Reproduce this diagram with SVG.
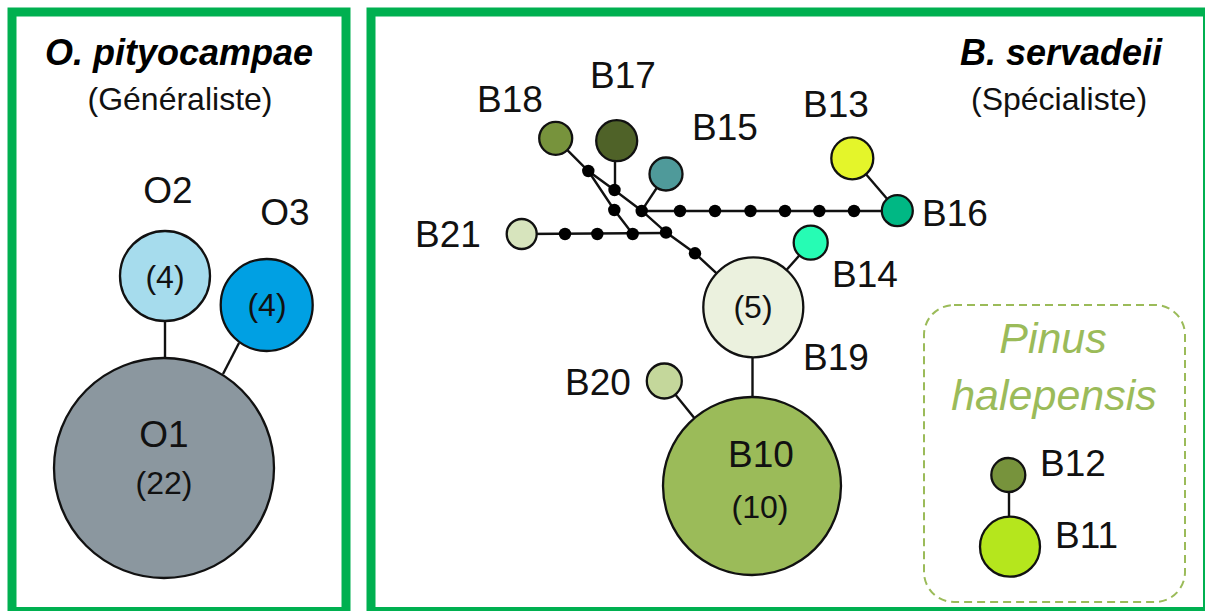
<svg xmlns="http://www.w3.org/2000/svg" width="1205" height="611" viewBox="0 0 1205 611">
<style>
.frame{fill:none;stroke:#00b050;stroke-width:9}
.node{stroke:#111;stroke-width:2.3}
.edge{stroke:#111;stroke-width:2.4;fill:none}
.dot{fill:#000}
.lbl{font-family:"Liberation Sans",Arial,sans-serif;font-size:37px;fill:#111}
.cnt{font-family:"Liberation Sans",Arial,sans-serif;font-size:32px;fill:#111;text-anchor:middle}
.title{font-family:"Liberation Sans",Arial,sans-serif;font-size:36px;font-weight:bold;font-style:italic;fill:#000;text-anchor:middle}
.sub{font-family:"Liberation Sans",Arial,sans-serif;font-size:32px;fill:#111;text-anchor:middle}
.pinus{font-family:"Liberation Sans",Arial,sans-serif;font-size:43px;font-style:italic;fill:#9bbb59;text-anchor:middle}
</style>
<rect width="1205" height="611" fill="#fff"/>
<rect class="frame" x="12" y="12" width="334" height="599.5"/>
<rect class="frame" x="371" y="12" width="836.5" height="599.5"/>
<rect x="924" y="305" width="261" height="297" rx="30" fill="none" stroke="#9bbb59" stroke-width="2" stroke-dasharray="8 5"/>

<text class="title" x="179" y="65">O. pityocampae</text>
<text class="sub" x="180" y="110">(Généraliste)</text>
<text class="title" x="1061" y="65">B. servadeii</text>
<text class="sub" x="1059" y="110">(Spécialiste)</text>
<text class="pinus" x="1053" y="353">Pinus</text>
<text class="pinus" x="1054" y="410">halepensis</text>

<g id="connectors">
<line class="edge" x1="165" y1="320" x2="165" y2="362"/>
<line class="edge" x1="239" y1="343" x2="223" y2="374"/>
<polyline class="edge" points="555.7,138.3 588.3,171 614.3,190 641.7,210.7 666,232.3 695,253.3 753.3,307.3"/>
<polyline class="edge" points="588.3,171 614.3,210 632.7,234"/>
<line class="edge" x1="615" y1="140" x2="615" y2="190"/>
<line class="edge" x1="666" y1="174" x2="641.7" y2="210.7"/>
<line class="edge" x1="642" y1="211" x2="898" y2="211"/>
<line class="edge" x1="521.7" y1="234" x2="666" y2="233"/>
<line class="edge" x1="852.3" y1="158.3" x2="897.3" y2="210.7"/>
<line class="edge" x1="810.7" y1="242.7" x2="753.3" y2="307.3"/>
<line class="edge" x1="752.5" y1="307" x2="752.5" y2="486"/>
<line class="edge" x1="664.3" y1="381" x2="700" y2="425"/>
<line class="edge" x1="1009" y1="475" x2="1009" y2="546"/>
<g class="dot">
<circle cx="588.3" cy="171" r="6.2"/>
<circle cx="614.5" cy="190" r="6.2"/>
<circle cx="614.3" cy="210" r="6.2"/>
<circle cx="641.7" cy="211" r="6.2"/>
<circle cx="680" cy="211" r="6.2"/>
<circle cx="715" cy="211" r="6.2"/>
<circle cx="750.5" cy="211" r="6.2"/>
<circle cx="785" cy="211" r="6.2"/>
<circle cx="819.3" cy="211" r="6.2"/>
<circle cx="854" cy="211" r="6.2"/>
<circle cx="565" cy="234" r="6.2"/>
<circle cx="597.3" cy="234" r="6.2"/>
<circle cx="632.7" cy="234" r="6.2"/>
<circle cx="666" cy="232.5" r="6.2"/>
<circle cx="695" cy="253.3" r="6.2"/>
</g>
</g>

<g id="O1"><circle class="node" cx="164" cy="468" r="110" fill="#8b979f"/><text class="lbl" x="164" y="447" text-anchor="middle">O1</text><text class="cnt" x="164" y="494">(22)</text></g>
<g id="O2"><circle class="node" cx="165" cy="276" r="45" fill="#a6dced"/><text class="cnt" x="165" y="288">(4)</text><text class="lbl" x="168" y="203" text-anchor="middle">O2</text></g>
<g id="O3"><circle class="node" cx="266.7" cy="305" r="46" fill="#00a0e3"/><text class="cnt" x="267" y="316">(4)</text><text class="lbl" x="285" y="225" text-anchor="middle">O3</text></g>

<g id="B18"><circle class="node" cx="555.7" cy="138.3" r="16.5" fill="#77933c"/><text class="lbl" x="477" y="112">B18</text></g>
<g id="B17"><circle class="node" cx="616.7" cy="140.7" r="20.5" fill="#4f6228"/><text class="lbl" x="590" y="88">B17</text></g>
<g id="B15"><circle class="node" cx="666" cy="174" r="16.5" fill="#4f9a9a"/><text class="lbl" x="692" y="140">B15</text></g>
<g id="B21"><circle class="node" cx="521.7" cy="234" r="15" fill="#d7e4bd"/><text class="lbl" x="415" y="247">B21</text></g>
<g id="B13"><circle class="node" cx="852.3" cy="158.3" r="21" fill="#e4f52a"/><text class="lbl" x="803" y="117">B13</text></g>
<g id="B16"><circle class="node" cx="897.3" cy="210.7" r="15.5" fill="#00b884"/><text class="lbl" x="922" y="226">B16</text></g>
<g id="B14"><circle class="node" cx="810.7" cy="242.7" r="17" fill="#26fcb4"/><text class="lbl" x="832" y="287">B14</text></g>
<g id="B19"><circle class="node" cx="753.3" cy="307.3" r="50" fill="#ebf1de"/><text class="cnt" x="753" y="318">(5)</text><text class="lbl" x="803" y="370">B19</text></g>
<g id="B20"><circle class="node" cx="664.3" cy="381" r="17.5" fill="#c4d79b"/><text class="lbl" x="565" y="395">B20</text></g>
<g id="B10"><circle class="node" cx="752" cy="486" r="89" fill="#9bbb59"/><text class="lbl" x="761" y="467" text-anchor="middle">B10</text><text class="cnt" x="760" y="518">(10)</text></g>
<g id="B12"><circle class="node" cx="1008.3" cy="475" r="17" fill="#77933c"/><text class="lbl" x="1040" y="476">B12</text></g>
<g id="B11"><circle class="node" cx="1010" cy="546.7" r="30" fill="#b5e61d"/><text class="lbl" x="1055" y="548">B11</text></g>
</svg>
